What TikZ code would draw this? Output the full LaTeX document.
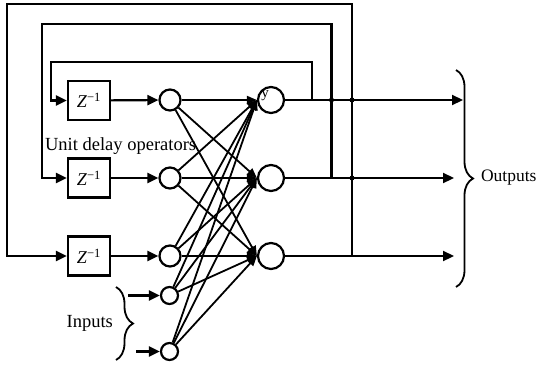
\documentclass[tikz,border=0pt]{standalone}
\usepackage{fontspec}
\setmainfont{Liberation Serif}
\usetikzlibrary{arrows.meta,decorations.pathreplacing}
\begin{document}
\begin{tikzpicture}[x=1pt,y=-1pt, line width=2.2pt,
  tip/.style={-{Triangle[length=11pt,width=10pt]}},
  zbox/.style={draw, minimum width=42pt, minimum height=39pt, inner sep=0pt, font=\fontsize{18}{18}\selectfont},
  neuron/.style={draw, circle, inner sep=0pt, minimum size=#1},
  lbl/.style={font=\fontsize{18.5}{18.5}\selectfont, inner sep=0pt},
  jdot/.style={circle, fill, inner sep=0pt, minimum size=5pt},
  conn/.style={line width=1.8pt, -{Triangle[length=10pt,width=8pt]}},
  bracestyle/.style={line width=1.8pt, decorate, decoration={brace, amplitude=17pt}}
]
\useasboundingbox (0,0) rectangle (540,364);

% unit delay boxes
\node[zbox] (z1) at (89,100.5) {\textit{Z}\textsuperscript{−1}};
\node[zbox] (z2) at (89,178) {\textit{Z}\textsuperscript{−1}};
\node[zbox] (z3) at (89,256) {\textit{Z}\textsuperscript{−1}};

% context / input neurons
\node[neuron=21pt] (h1) at (170,100) {};
\node[neuron=21pt] (h2) at (170,178) {};
\node[neuron=21pt] (h3) at (170,256) {};
\node[neuron=17pt] (i1) at (169.5,295.5) {};
\node[neuron=17pt] (i2) at (169.5,351.5) {};

% output neurons
\node[neuron=26pt] (o1) at (271,100) {};
\node[neuron=26pt] (o2) at (271,178) {};
\node[neuron=26pt] (o3) at (271,256) {};
\node[font=\fontsize{15}{15}\selectfont, inner sep=0pt] (ylbl) at (265,96) {y};

% output arrows
\coordinate (e1) at (463,100);
\coordinate (e2) at (454,178);
\coordinate (e3) at (454,256);
\draw[tip] (o1) -- (e1);
\draw[tip] (o2) -- (e2);
\draw[tip] (o3) -- (e3);

% junction dots
\node[jdot] (d1) at (331.5,100) {};
\node[jdot] (d2) at (352,100) {};
\node[jdot] (d3) at (352,178) {};

% feedback loops
\coordinate (j1) at (312,100);
\coordinate (j2) at (331.5,178);
\coordinate (j3) at (352,256);
\draw[tip] (j1) -- ++(0,-38) -| ([xshift=-16pt]z1.west) -- (z1.west);
\draw[tip] (j2) -- ++(0,-154) -| ([xshift=-25pt]z2.west) -- (z2.west);
\draw[tip] (j3) -- ++(0,-252) -| ([xshift=-60pt]z3.west) -- (z3.west);

% delay to context neurons
\draw[tip] (z1) -- (h1);
\draw[tip] (z2) -- (h2);
\draw[tip] (z3) -- (h3);

% external inputs
\coordinate (s1) at (128,295.5);
\coordinate (s2) at (136,351.5);
\draw[tip] (s1) -- (i1);
\draw[tip] (s2) -- (i2);

% full connections
\foreach \s in {h1,h2,h3,i1,i2}
  \foreach \t in {o1,o2,o3}
    \draw[conn] (\s) -- (\t.west);

% labels and braces
\node[lbl, anchor=west] (udl) at (44,146) {Unit delay operators};
\draw[bracestyle] (456,70) -- (456,287);
\node[lbl, anchor=west, font=\fontsize{17.5}{17.5}\selectfont] (outl) at (480,178) {Outputs};
\draw[bracestyle] (116,287) -- (116,360);
\node[lbl, anchor=east] (inl) at (114,323) {Inputs};
\end{tikzpicture}
\end{document}
